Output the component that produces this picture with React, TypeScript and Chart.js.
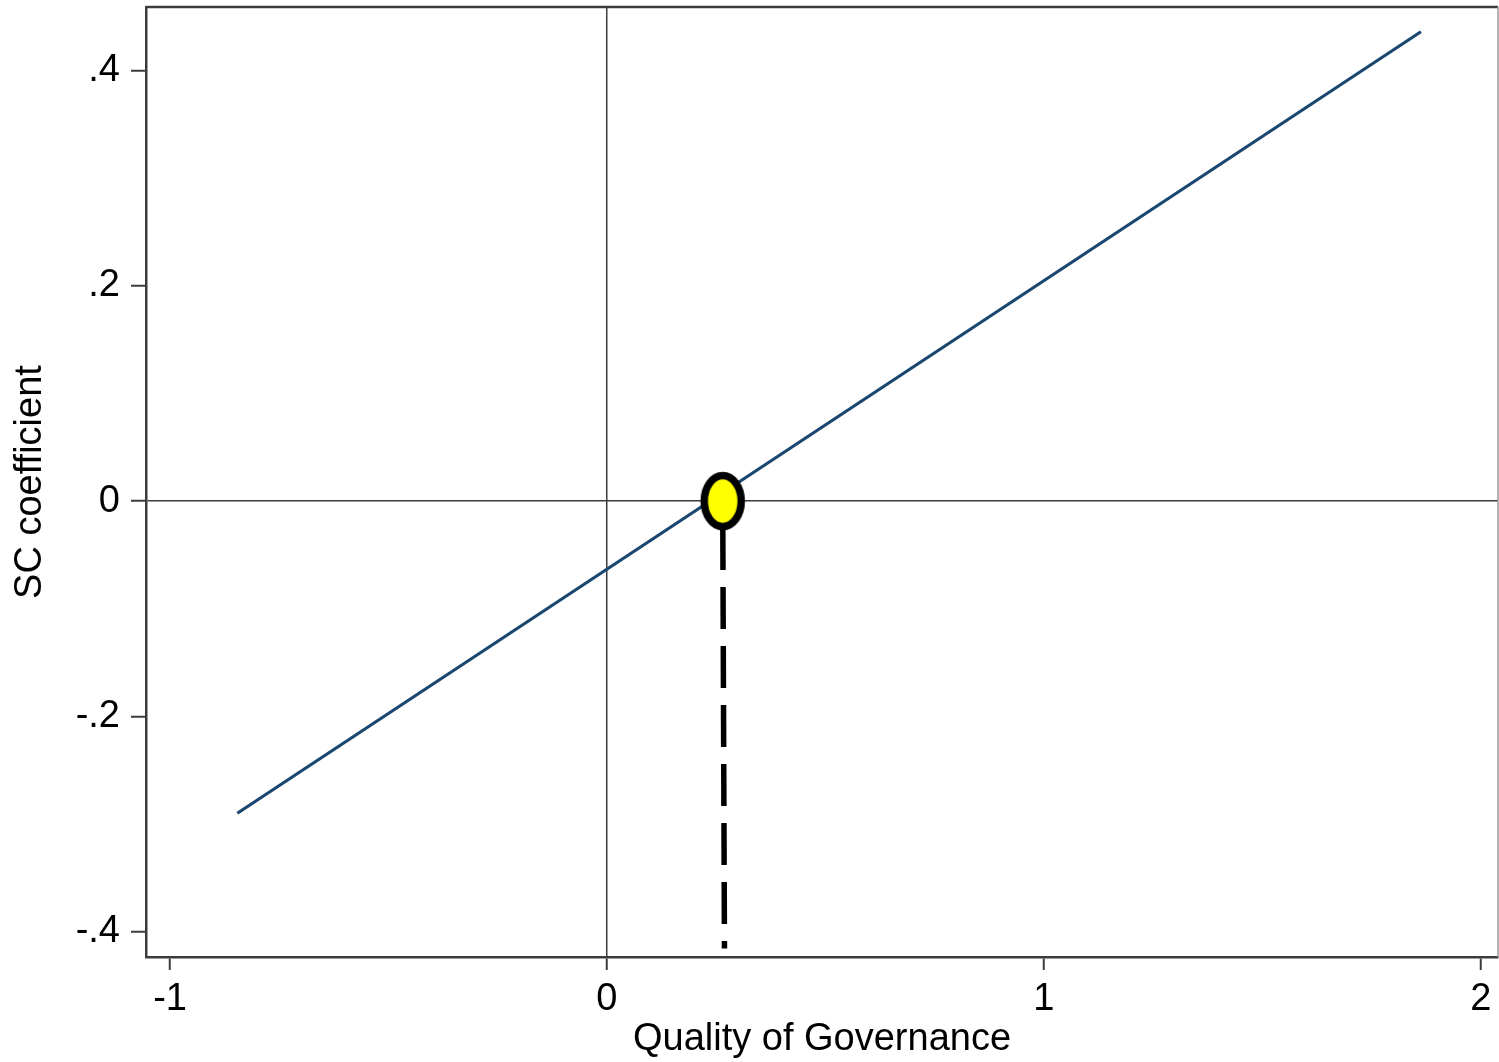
import React, { useEffect, useRef } from "react";
import { Chart, registerables } from "chart.js";

Chart.register(...registerables);

// ---- data ----
const lineX = [-0.846, 1.863];
const lineY = [-0.29, 0.436];
const markerX = [0.265];
const markerY = [0];
const dropX = [0.265, 0.269];
const dropY = [0, -0.4155];

const xTicks = [-1, 0, 1, 2];
const yTicks = [-0.4, -0.2, 0, 0.2, 0.4];
const xTitle = "Quality of Governance";
const yTitle = "SC coefficient";

const fmtY = (v: number) =>
  Number(v.toFixed(1)).toString().replace(/^(-?)0\./, "$1.");

function makeEllipse(): HTMLCanvasElement {
  const c = document.createElement("canvas");
  c.width = 50;
  c.height = 64;
  const g = c.getContext("2d")!;
  g.beginPath();
  g.ellipse(25, 32, 18.5, 25.5, 0, 0, Math.PI * 2);
  g.fillStyle = "#ffff00";
  g.fill();
  g.lineWidth = 7.5;
  g.strokeStyle = "#000000";
  g.stroke();
  return c;
}

const framePlugin = {
  id: "frame",
  afterDraw(chart: any) {
    const { ctx, chartArea } = chart;
    ctx.save();
    ctx.strokeStyle = "#3c3c3c";
    ctx.lineWidth = 2.5;
    ctx.beginPath();
    ctx.moveTo(chartArea.left, chartArea.top);
    ctx.lineTo(chartArea.right, chartArea.top);
    ctx.stroke();
    ctx.strokeStyle = "#9a9a9a";
    ctx.lineWidth = 1.5;
    ctx.beginPath();
    ctx.moveTo(chartArea.right, chartArea.top);
    ctx.lineTo(chartArea.right, chartArea.bottom);
    ctx.stroke();
    ctx.restore();
  },
};

export default function App() {
  const ref = useRef<HTMLCanvasElement>(null);

  useEffect(() => {
    const font = "'Liberation Sans', Arial, sans-serif";
    const zeroColor = (ctx: any) =>
      ctx.tick && Math.abs(ctx.tick.value) < 1e-9 ? "#3c3c3c" : "rgba(0,0,0,0)";
    const chart = new Chart(ref.current!, {
      type: "scatter",
      data: {
        datasets: [
          {
            label: "marker",
            data: markerX.map((x, i) => ({ x, y: markerY[i] })),
            pointStyle: makeEllipse() as any,
            pointRadius: 0.5,
            pointBorderWidth: 0,
            pointHoverRadius: 0,
            pointHoverBorderWidth: 0,
            order: 0,
          },
          {
            label: "drop",
            data: dropX.map((x, i) => ({ x, y: dropY[i] })),
            showLine: true,
            borderColor: "#000000",
            borderWidth: 5.5,
            borderDash: [42, 17],
            borderDashOffset: 32,
            borderCapStyle: "butt",
            pointRadius: 0,
            pointHoverRadius: 0,
            order: 1,
          },
          {
            label: "fit",
            data: lineX.map((x, i) => ({ x, y: lineY[i] })),
            showLine: true,
            borderColor: "#1a476f",
            borderWidth: 3.2,
            pointRadius: 0,
            pointHoverRadius: 0,
            order: 2,
          },
        ],
      },
      options: {
        animation: false,
        responsive: true,
        maintainAspectRatio: false,
        events: [],
        layout: { padding: { top: 7, right: 1, left: 0, bottom: 0 } },
        plugins: { legend: { display: false }, tooltip: { enabled: false } },
        scales: {
          x: {
            type: "linear",
            min: -1.055,
            max: 2.0395,
            afterFit: (s: any) => {
              s.height = 105;
              s.paddingLeft = 0;
              s.paddingRight = 0;
            },
            afterBuildTicks: (s: any) => {
              s.ticks = xTicks.map((v) => ({ value: v }));
            },
            ticks: {
              includeBounds: false,
              color: "#000000",
              font: { family: font, size: 38 },
              padding: 7,
              maxRotation: 0,
              callback: (v: any) => String(v),
            },
            grid: {
              color: zeroColor,
              lineWidth: 1.5,
              tickColor: "#3c3c3c",
              tickLength: 13,
              tickWidth: 2,
            },
            border: { display: true, color: "#3c3c3c", width: 2.5 },
            title: {
              display: true,
              text: xTitle,
              color: "#000000",
              font: { family: font, size: 38 },
              padding: { top: 0, bottom: 0 },
            },
          },
          y: {
            type: "linear",
            min: -0.4235,
            max: 0.459,
            afterFit: (s: any) => {
              s.width = 146;
              s.paddingTop = 0;
              s.paddingBottom = 0;
            },
            afterBuildTicks: (s: any) => {
              s.ticks = yTicks.map((v) => ({ value: v }));
            },
            ticks: {
              includeBounds: false,
              color: "#000000",
              font: { family: font, size: 38 },
              padding: 11,
              callback: (v: any) => fmtY(Number(v)),
            },
            grid: {
              color: zeroColor,
              lineWidth: 1.5,
              tickColor: "#3c3c3c",
              tickLength: 15,
              tickWidth: 2,
            },
            border: { display: true, color: "#3c3c3c", width: 2.5 },
            title: {
              display: true,
              text: yTitle,
              color: "#000000",
              font: { family: font, size: 38 },
              padding: { top: 8, bottom: 0 },
            },
          },
        },
      },
      plugins: [framePlugin],
    });
    return () => chart.destroy();
  }, []);

  return (
    <div
      style={{
        position: "absolute",
        left: 0,
        top: 0,
        width: 1499,
        height: 1062,
        background: "#ffffff",
      }}
    >
      <canvas ref={ref} />
    </div>
  );
}
